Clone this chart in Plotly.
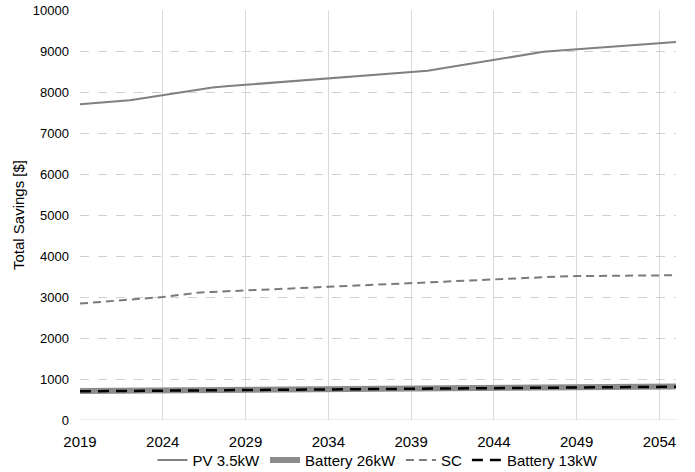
import plotly.graph_objects as go

years = list(range(2019, 2056))

pv_35kw = [7700, 7735, 7770, 7800, 7860, 7920, 7985, 8050, 8110, 8145,
           8175, 8205, 8235, 8265, 8295, 8330, 8360, 8390, 8420, 8455,
           8485, 8520, 8585, 8650, 8720, 8785, 8850, 8915, 8980, 9010,
           9040, 9070, 9100, 9130, 9160, 9190, 9220]

sc = [2840, 2870, 2900, 2930, 2965, 3000, 3050, 3100, 3125, 3140,
      3155, 3175, 3195, 3215, 3230, 3250, 3265, 3280, 3300, 3315,
      3335, 3355, 3375, 3395, 3415, 3430, 3455, 3475, 3495, 3500,
      3510, 3513, 3516, 3519, 3522, 3526, 3530]

battery_26kw = [705, 708, 711, 714, 717, 720, 724, 727, 730, 733,
                736, 739, 742, 745, 748, 751, 754, 757, 760, 763,
                766, 769, 772, 776, 779, 782, 785, 788, 791, 794,
                797, 800, 803, 806, 809, 812, 815]

battery_13kw = [700, 703, 706, 709, 712, 715, 719, 722, 725, 728,
                731, 734, 737, 740, 743, 747, 750, 753, 756, 759,
                762, 765, 768, 772, 775, 778, 781, 784, 787, 790,
                793, 796, 799, 802, 805, 808, 811]

x_ticks = [2019, 2024, 2029, 2034, 2039, 2044, 2049, 2054]
y_ticks = list(range(0, 10001, 1000))

FONT = "Liberation Sans, Arial, sans-serif"

fig = go.Figure()
fig.add_trace(go.Scatter(x=years, y=pv_35kw, mode="lines", name="PV 3.5kW",
                         line=dict(color="#808080", width=2)))
fig.add_trace(go.Scatter(x=years, y=battery_26kw, mode="lines", name="Battery 26kW",
                         line=dict(color="#8c8c8c", width=6)))
fig.add_trace(go.Scatter(x=years, y=sc, mode="lines", name="SC",
                         line=dict(color="#7a7a7a", width=2, dash="8px,5px")))
fig.add_trace(go.Scatter(x=years, y=battery_13kw, mode="lines", name="Battery 13kW",
                         line=dict(color="#000000", width=2.5, dash="11px,7px")))

fig.update_layout(
    width=695, height=472,
    margin=dict(l=80, r=19, t=10, b=52, autoexpand=False),
    paper_bgcolor="white", plot_bgcolor="white",
    font=dict(family=FONT, color="#000000", size=15),
    showlegend=True,
    legend=dict(orientation="h", x=0.5, xanchor="center",
                yref="container", y=0.06, yanchor="top",
                font=dict(size=15), itemwidth=30, tracegroupgap=0,
                bgcolor="rgba(0,0,0,0)"),
    xaxis=dict(range=[2019, 2055], tickmode="array", tickvals=x_ticks,
               ticktext=[str(v) for v in x_ticks],
               showgrid=True, gridcolor="#d9d9d9", gridwidth=1,
               showline=False, zeroline=False, ticks="",
               tickfont=dict(size=15), ticklabelstandoff=11, fixedrange=True),
    yaxis=dict(range=[0, 10000], tickmode="array", tickvals=y_ticks,
               ticktext=[str(v) for v in y_ticks],
               showgrid=True, gridcolor="#d0d0d0", gridwidth=1, griddash="dash",
               zeroline=False, showline=False, ticks="",
               tickfont=dict(size=13), ticklabelstandoff=10,
               title=dict(text="Total Savings [$]", font=dict(size=15), standoff=4),
               fixedrange=True),
)

# solid baseline along y = 0
fig.add_shape(type="line", xref="paper", yref="y", x0=0, x1=1, y0=0, y1=0,
              line=dict(color="#d9d9d9", width=1), layer="below")

fig.write_html("out.html")
